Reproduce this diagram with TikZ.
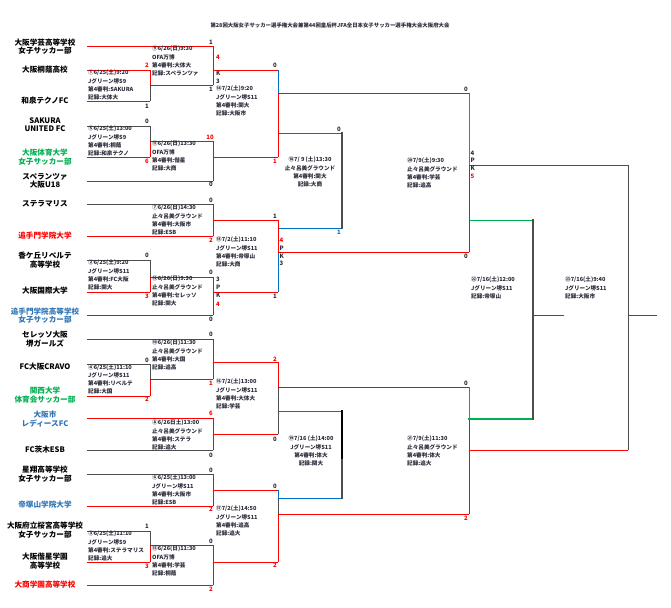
\documentclass[tikz,border=0pt]{standalone}
\usepackage{fontspec}
\setmainfont{Noto Sans CJK JP}
\definecolor{winred}{HTML}{FF0000}
\definecolor{darkline}{HTML}{4D4D4D}
\definecolor{subblue}{HTML}{0070C0}
\definecolor{playgreen}{HTML}{00B050}
\definecolor{tgreen}{HTML}{00B050}
\definecolor{tblue}{HTML}{2E75B6}
\definecolor{tred}{HTML}{FF0000}
\definecolor{dk}{HTML}{2B2B3A}
\tikzset{
  team/.style={font=\bfseries\fontsize{7.6}{8.3}\selectfont, align=center, inner sep=0pt},
  info/.style={font=\bfseries\fontsize{5.6}{7}\selectfont, anchor=west, inner sep=0pt, text=dk},
  titletext/.style={font=\bfseries\fontsize{5.4}{6}\selectfont, inner sep=0pt, text=dk},
  score/.style={font=\bfseries\fontsize{6}{7}\selectfont, inner sep=0pt},
  pk/.style={score, anchor=west},
  winline/.style={draw=winred, line width=0.85pt, line cap=rect},
  loseline/.style={draw=darkline, line width=0.8pt, line cap=rect},
  subline/.style={draw=subblue, line width=0.85pt, line cap=rect},
  playline/.style={draw=playgreen, line width=0.85pt, line cap=rect},
  heavy/.style={line width=1.8pt}
}
% four lines of match notes, 8pt apart
\newcommand{\gameinfo}[5][]{%
  \foreach \gline [count=\gi] in {#5}
    \node[info,#1] (#2-\gi) at (#3,#4+8*\gi-8) {\gline};%
}

\begin{document}
\begin{tikzpicture}[x=1pt,y=-1pt]
\useasboundingbox (0,0) rectangle (671,607);

% Title
\node[titletext] (title) at (330,25) {第28回大阪女子サッカー選手権大会兼第44回皇后杯JFA全日本女子サッカー選手権大会大阪府大会};

% Team names down the left side
\foreach \ty/\nm/\tc [count=\tn] in {
  46.5/{大阪学芸高等学校\\女子サッカー部}/black,
  69.5/{大阪桐蔭高校}/black,
  101/{和泉テクノFC}/black,
  125/{SAKURA\\UNITED FC}/black,
  157/{大阪体育大学\\女子サッカー部}/tgreen,
  180.5/{スペランツァ\\大阪U18}/black,
  203.5/{ステラマリス}/black,
  236/{追手門学院大学}/tred,
  260/{香ケ丘リベルテ\\高等学校}/black,
  291/{大阪国際大学}/black,
  315.5/{追手門学院高等学校\\女子サッカー部}/tblue,
  339/{セレッソ大阪\\堺ガールズ}/black,
  367/{FC大阪CRAVO}/black,
  395/{関西大学\\体育会サッカー部}/tgreen,
  419/{大阪市\\レディースFC}/tblue,
  450/{FC茨木ESB}/black,
  474/{星翔高等学校\\女子サッカー部}/black,
  505/{帝塚山学院大学}/tblue,
  530/{大阪府立桜宮高等学校\\女子サッカー部}/black,
  561/{大阪偕星学園\\高等学校}/black,
  585/{大商学園高等学校}/tred}
  \node[team, text=\tc] (team\tn) at (45,\ty) {\nm};

% Lines out of each team
\draw[loseline]
  (87,101) -- (150,101)  (87,126) -- (150,126)  (87,181) -- (213,181)
  (87,204) -- (213,204)  (87,260) -- (150,260)  (87,364) -- (150,364)
  (87,450) -- (213,450)  (87,474) -- (213,474)  (87,531) -- (150,531);
\draw[winline]
  (87,46) -- (213,46)  (87,70) -- (150,70)  (87,157) -- (150,157)
  (87,236) -- (213,236)  (87,292) -- (150,292)  (87,315) -- (213,315)
  (87,339) -- (213,339)  (87,396) -- (150,396)  (87,418) -- (213,418)
  (87,506) -- (213,506)  (87,562) -- (150,562)  (87,585) -- (213,585);

% First round (6/25)
\draw[loseline] (150,85) -- (150,101)  (150,126) -- (150,141)
  (150,260) -- (150,277)  (150,364) -- (150,379)  (150,531) -- (150,545);
\draw[winline] (150,70) -- (150,85) -- (213,85)
  (150,157) -- (150,141) -- (213,141)
  (150,292) -- (150,277) -- (213,277)
  (150,396) -- (150,379) -- (213,379)
  (150,562) -- (150,545) -- (213,545);

% Second round (6/26)
\draw[loseline] (213,70) -- (213,85)  (213,157) -- (213,181)  (213,204) -- (213,220)
  (213,277) -- (213,292)  (213,339) -- (213,362)  (213,434) -- (213,450)
  (213,474) -- (213,490)  (213,545) -- (213,562);
\draw[winline] (213,46) -- (213,70) -- (278,70)
  (213,141) -- (213,157) -- (278,157)
  (213,236) -- (213,220) -- (278,220)
  (213,315) -- (213,292) -- (278,292)
  (213,379) -- (213,362) -- (278,362)
  (213,418) -- (213,434) -- (278,434)
  (213,506) -- (213,490) -- (278,490)
  (213,585) -- (213,562) -- (278,562);

% Third round (7/2): winners on in red, losers in blue
\draw[loseline] (278,387) -- (278,434)  (278,498) -- (278,514);
\draw[subline] (278,70) -- (278,93)  (278,133) -- (342,133)
  (278,252) -- (278,292)  (278,228) -- (342,228)
  (278,411) -- (342,411)
  (278,490) -- (278,498) -- (342,498);
\draw[winline] (278,157) -- (278,93) -- (469,93)
  (278,220) -- (278,252) -- (469,252)
  (278,362) -- (278,387) -- (469,387)
  (278,562) -- (278,514) -- (469,514);

% Play-off for the losers
\draw[loseline, heavy] (342,133) -- (342,228)  (342,458) -- (342,498);
\draw[heavy, line cap=rect] (342,411) -- (342,458);

% 7/9 matches
\draw[loseline] (469,419) -- (469,450);
\draw[playline] (469,93) -- (469,165)  (469,220) -- (533,220)  (469,387) -- (469,419);
\draw[playline, heavy] (469,419) -- (533,419);
\draw[winline] (469,252) -- (469,165) -- (628,165)
  (469,514) -- (469,450) -- (628,450);

% 7/16 matches
\draw[loseline, heavy] (533,220) -- (533,419);
\draw[loseline] (533,315) -- (564,315)  (628,165) -- (628,450)  (628,315) -- (657,315);

% Scores
\foreach \sx/\sy/\sv/\sc [count=\sn] in {
  147/65/2/winred, 147/106/1/dk, 147/121/0/dk, 147/161/6/winred,
  147/255/0/dk, 147/296/3/winred, 147/360/0/dk, 147/399/2/winred,
  147/526/1/dk, 147/566/3/winred,
  211/42/1/dk, 211/89/1/dk, 210/137/10/winred, 211/184/0/dk,
  211/200/0/dk, 211/240/2/winred, 211/272/0/dk, 211/319/0/dk,
  211/334/0/dk, 211/383/1/winred, 211/413/6/winred, 211/455/0/dk,
  211/470/0/dk, 211/509/2/winred, 211/541/0/dk, 211/589/2/winred,
  275/65/0/dk, 275/161/1/winred, 275/216/1/dk, 275/296/1/dk,
  275/359/2/winred, 275/439/0/dk, 275/486/0/dk, 275/565/2/winred,
  339/129/0/dk, 339/232/1/subblue,
  466/89/0/dk, 466/256/0/dk, 466/383/0/dk, 466/518/2/winred}
  \node[score, text=\sc] (score\sn) at (\sx,\sy) {\sv};

% Penalty shoot-outs
\foreach \px/\py/\pv/\pc [count=\pn] in {
  216/57/4/winred, 216/73/K/dk, 216/81/3/dk,
  216/279/3/dk, 216/287/P/dk, 216/295/K/dk, 216/304/4/winred,
  279.5/240/4/winred, 279.5/248/P/dk, 279.5/256/K/dk, 279.5/263/3/dk,
  470.5/153/4/dk, 470.5/160/P/dk, 470.5/168/K/dk, 470.5/176/5/winred}
  \node[pk, text=\pc] (pk\pn) at (\px,\py) {\pv};

% Match notes
\gameinfo{m1}{88}{73}{①6/25(土)9:20, Jグリーン堺S9, 第4審判:SAKURA, 記録:大体大}
\gameinfo{m5}{88}{129}{⑤6/25(土)13:00, Jグリーン堺S9, 第4審判:桐蔭, 記録:和泉テクノ}
\gameinfo{m2}{88}{263}{②6/25(土)9:20, Jグリーン堺S11, 第4審判:FC大阪, 記録:関大}
\gameinfo{m4}{88}{367.5}{④6/25(土)11:10, Jグリーン堺S11, 第4審判:リベルテ, 記録:大国}
\gameinfo{m3}{88}{534}{③6/25(土)11:10, Jグリーン堺S9, 第4審判:ステラマリス, 記録:追大}
\gameinfo{m9}{152}{49}{⑨6/26(日)9:30, OFA万博, 第4審判:大体大, 記録:スペランツァ}
\gameinfo{m11}{152}{144}{⑪6/26(日)13:30, OFA万博, 第4審判:偕星, 記録:大商}
\gameinfo{m7}{152}{208}{⑦6/26(日)14:30, 止々呂美グラウンド, 第4審判:大阪市, 記録:ESB}
\gameinfo{m12}{152}{279}{⑫6/26(日)9:30, 止々呂美グラウンド, 第4審判:セレッソ, 記録:関大}
\gameinfo{m10}{152}{343}{⑩6/26(日)11:30, 止々呂美グラウンド, 第4審判:大国, 記録:追高}
\gameinfo{m8}{152}{423}{⑧6/26日土)13:00, 止々呂美グラウンド, 第4審判:ステラ, 記録:追大}
\gameinfo{m6}{152}{478}{⑥6/25(土)13:00, Jグリーン堺S11, 第4審判:大阪市, 記録:ESB}
\gameinfo{m13}{152}{549}{⑬6/26(日)11:30, OFA万博, 第4審判:学芸, 記録:桐蔭}
\gameinfo{m14}{216}{89}{⑭7/2(土)9:20, Jグリーン堺S11, 第4審判:関大, 記録:大阪市}
\gameinfo{m15}{216}{240}{⑮7/2(土)11:10, Jグリーン堺S11, 第4審判:帝塚山, 記録:大商}
\gameinfo{m16}{216}{382}{⑯7/2(土)13:00, Jグリーン堺S11, 第4審判:大体大, 記録:学芸}
\gameinfo{m17}{216}{509}{⑰7/2(土)14:50, Jグリーン堺S11, 第4審判:追高, 記録:追大}
\gameinfo[anchor=center]{m18}{310}{160}{⑱7/ 9 (土)13:30, 止々呂美グラウンド, 第4審判:関大, 記録:大商}
\gameinfo[anchor=center]{m19}{311}{439}{⑲7/16 (土)14:00, Jグリーン堺S11, 第4審判:体大, 記録:関大}
\gameinfo{m20}{407}{161}{⑳7/9(土)9:30, 止々呂美グラウンド, 第4審判:学芸, 記録:追高}
\gameinfo{m21}{407}{439}{㉑7/9(土)11:30, 止々呂美グラウンド, 第4審判:体大, 記録:追大}
\gameinfo{m22}{471}{280}{㉒7/16(土)12:00, Jグリーン堺S11, 記録:帝塚山}
\gameinfo{m23}{565}{280}{㉓7/16(土)9:40, Jグリーン堺S11, 記録:大阪市}

\end{tikzpicture}
\end{document}
